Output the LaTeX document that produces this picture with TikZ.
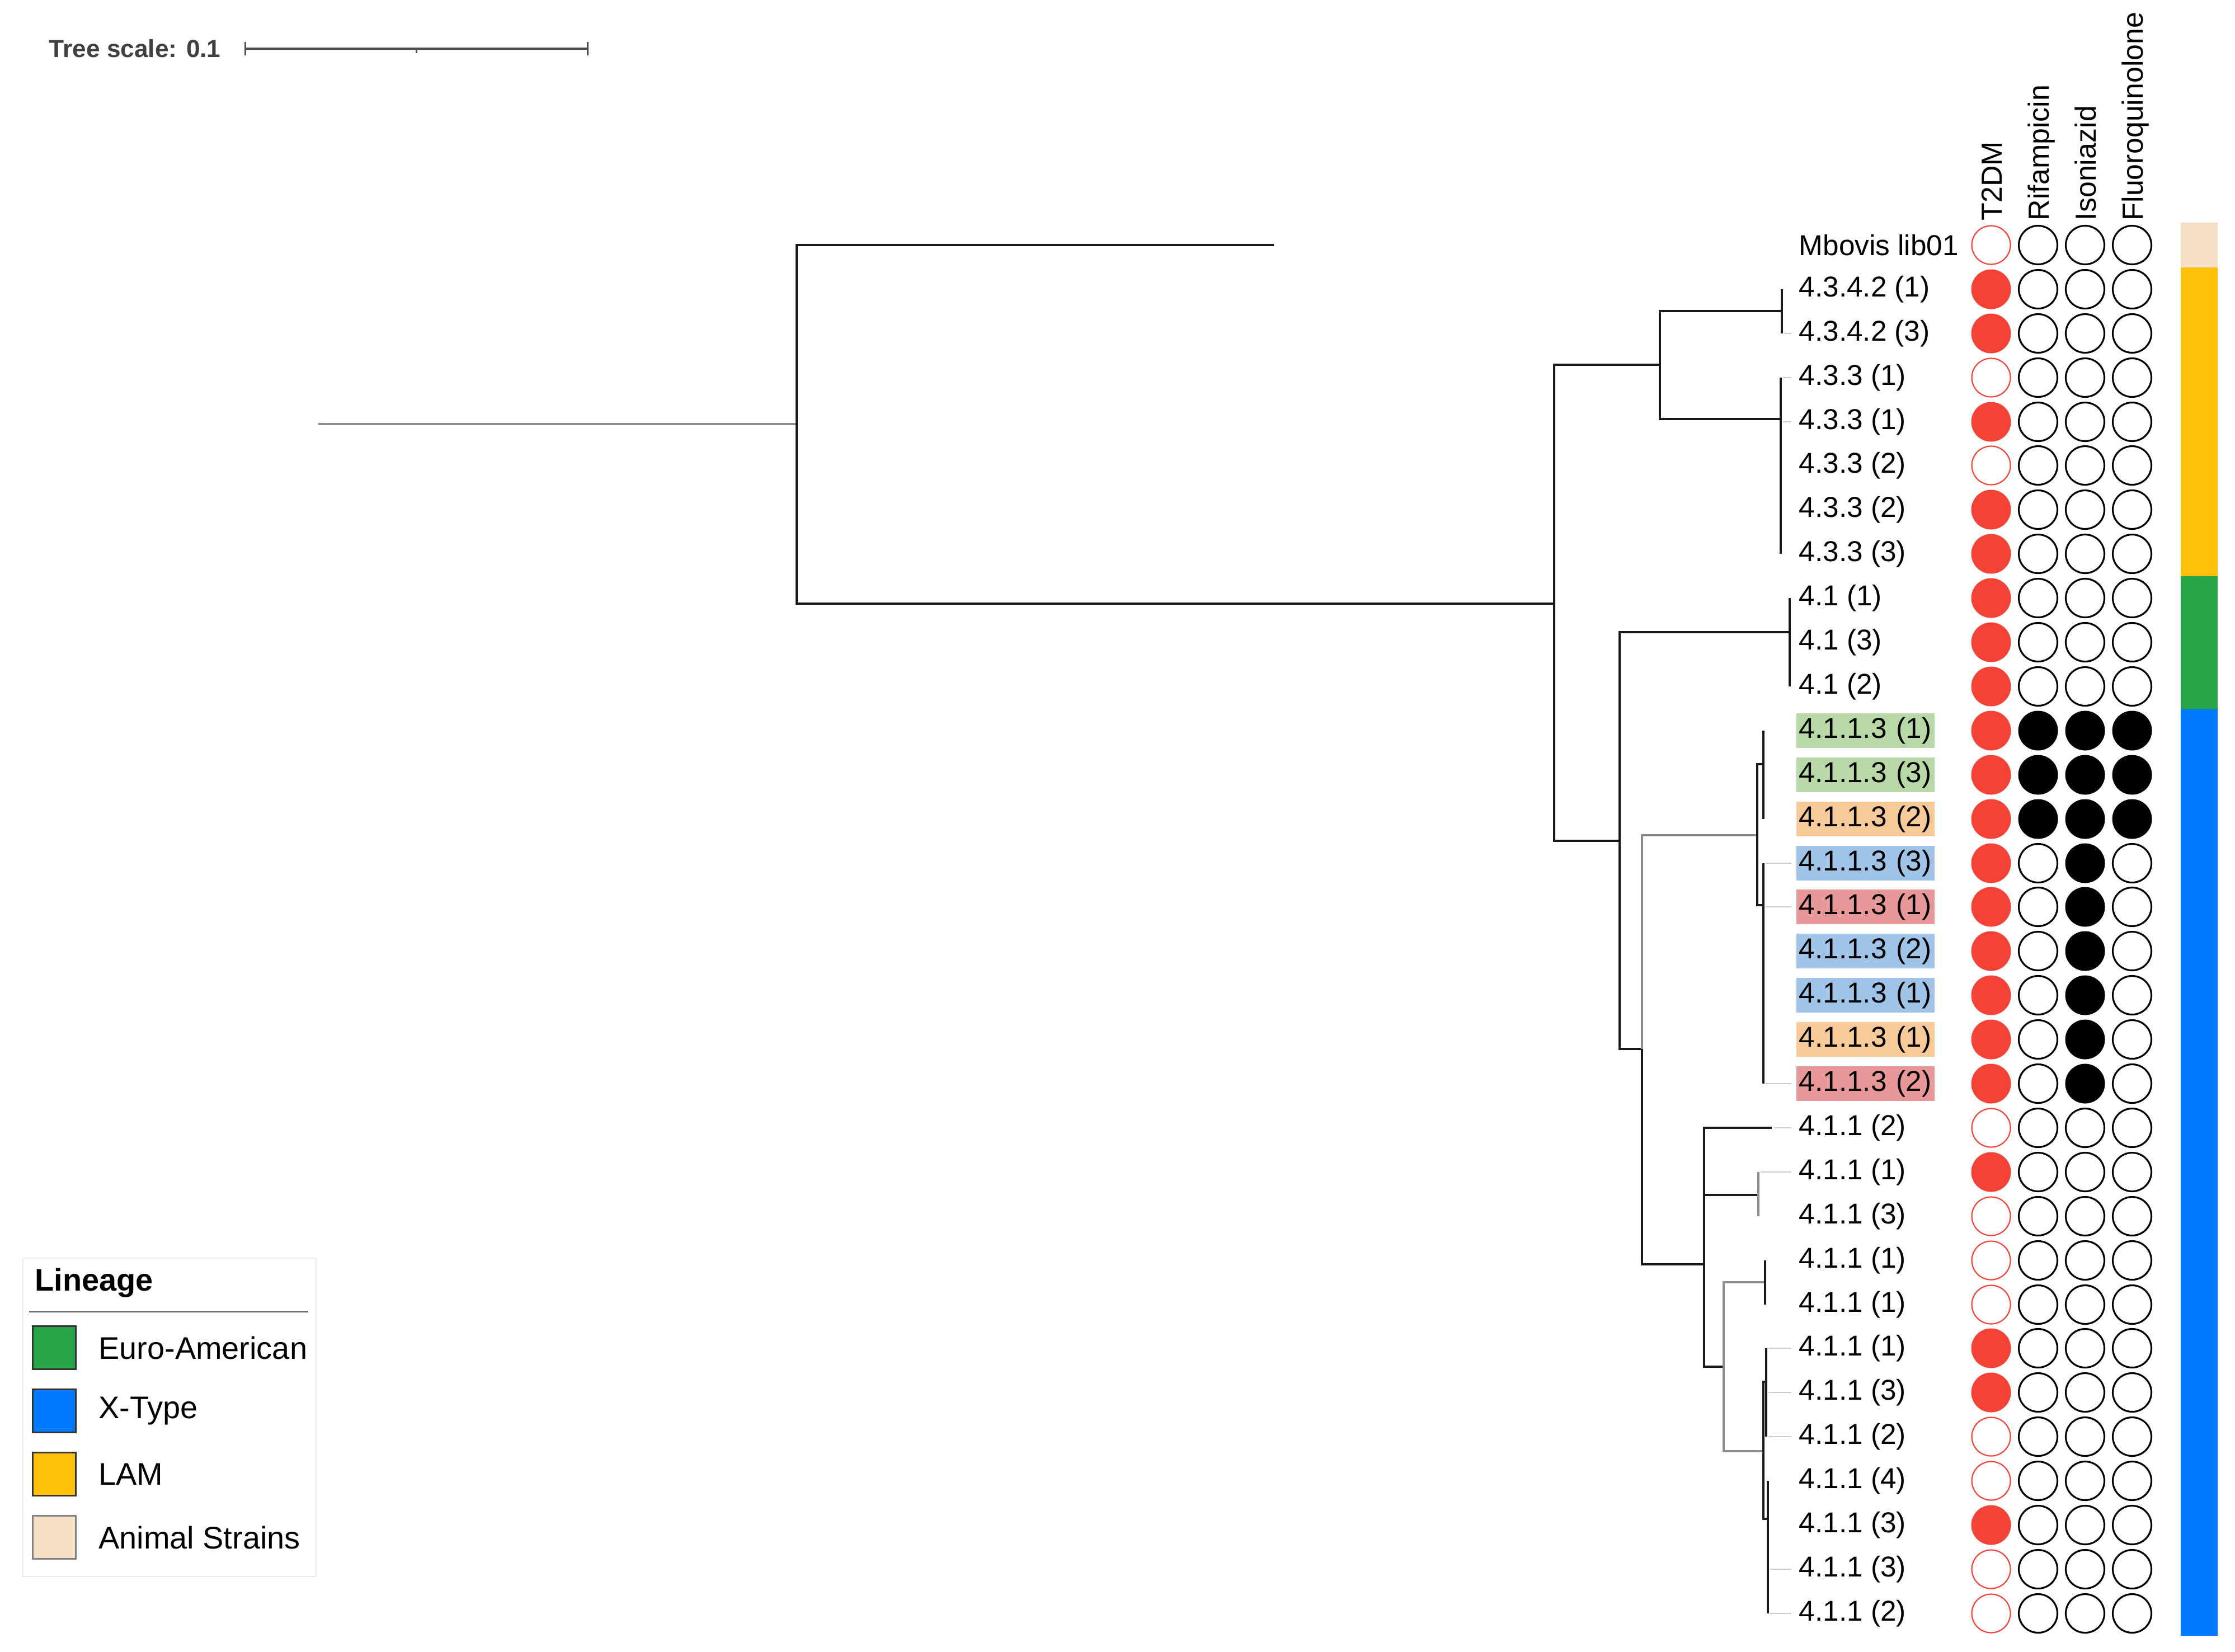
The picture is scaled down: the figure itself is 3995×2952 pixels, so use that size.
\documentclass[tikz,border=0pt]{standalone}
\usepackage{fontspec}
\setmainfont{Liberation Sans}
\usetikzlibrary{positioning}

\definecolor{t2red}{RGB}{244,67,54}
\definecolor{eagreen}{RGB}{40,165,70}
\definecolor{xblue}{RGB}{0,122,255}
\definecolor{lamyellow}{RGB}{255,193,7}
\definecolor{animalbeige}{RGB}{247,223,199}
\definecolor{hlgreen}{RGB}{184,216,168}
\definecolor{hlorange}{RGB}{248,201,153}
\definecolor{hlblue}{RGB}{160,196,232}
\definecolor{hlpink}{RGB}{232,152,152}

\newcommand{\tipfont}{\fontsize{14.6}{16}\selectfont}
\newcommand{\headfont}{\fontsize{14.8}{16}\selectfont}
\newcommand{\legfont}{\fontsize{15.9}{18}\selectfont}

\tikzstyle{branch} = [line width=0.38mm, black!90]
\tikzstyle{greybranch} = [line width=0.38mm, black!45]
\tikzstyle{stub} = [line width=0.25mm, black!20, shorten >=0.8mm, shorten <=0.4mm]
\tikzstyle{tip} = [anchor=west, inner xsep=0.5mm, inner ysep=0pt, minimum height=6.2mm, font=\tipfont]
\tikzstyle{tipbox} = [tip, text width=23.7mm, align=left]
\tikzstyle{tyes} = [circle, inner sep=0pt, minimum size=7.1mm, fill=t2red]
\tikzstyle{tno} = [circle, inner sep=0pt, minimum size=6.9mm, draw=t2red, line width=0.22mm]
\tikzstyle{dyes} = [circle, inner sep=0pt, minimum size=7.1mm, fill=black]
\tikzstyle{dno} = [circle, inner sep=0pt, minimum size=6.9mm, draw=black, line width=0.32mm]
\tikzstyle{header} = [rotate=90, anchor=base west, inner sep=0pt, font=\headfont]
\tikzstyle{swatch} = [rectangle, inner sep=0pt, minimum size=7.7mm, draw=black!80, line width=0.25mm]
\tikzstyle{legtext} = [anchor=west, inner sep=0pt, font=\legfont]

% one row of resistance marks
\newcommand{\resrow}[6]{%
    \node (#1t) [#3] at (3559,#2) {};
    \node (#1r) [#4] at (3643,#2) {};
    \node (#1i) [#5] at (3727,#2) {};
    \node (#1f) [#6] at (3811,#2) {};
}

\begin{document}
\begin{tikzpicture}[x=0.1mm, y=-0.1mm]
    \useasboundingbox (0,0) rectangle (3995,2952);

    % tree scale
    \node (scaletext) [anchor=west, inner sep=0pt, text=black!75, font=\fontsize{12.6}{14}\selectfont\bfseries] at (87,87) {Tree scale: 0.1};
    \coordinate (scaleL) at (438,87);
    \coordinate (scaleR) at (1050,87);
    \coordinate (scaleM) at (744,87);
    \draw [line width=0.45mm, black!70] (scaleL) -- (scaleR);
    \draw [line width=0.3mm, black!70] ([yshift=1.2mm]scaleL) -- ([yshift=-1.2mm]scaleL);
    \draw [line width=0.3mm, black!70] ([yshift=1.2mm]scaleR) -- ([yshift=-1.2mm]scaleR);
    \draw [line width=0.3mm, black!70] (scaleM) -- ([yshift=-0.8mm]scaleM);

    % headers
    \node (hdtdm) [header] at (3578,395) {T2DM};
    \node (hdrif) [header] at (3662,395) {Rifampicin};
    \node (hdinh) [header] at (3746,395) {Isoniazid};
    \node (hdfq) [header] at (3830,395) {Fluoroquinolone};

    % tip labels
    \node (l0) [tip] at (3210,438) {Mbovis lib01};
    \node (l1) [tip] at (3210,517) {4.3.4.2 (1)};
    \node (l2) [tip] at (3210,596) {4.3.4.2 (3)};
    \node (l3) [tip] at (3210,675) {4.3.3 (1)};
    \node (l4) [tip] at (3210,754) {4.3.3 (1)};
    \node (l5) [tip] at (3210,832) {4.3.3 (2)};
    \node (l6) [tip] at (3210,911) {4.3.3 (2)};
    \node (l7) [tip] at (3210,990) {4.3.3 (3)};
    \node (l8) [tip] at (3210,1069) {4.1 (1)};
    \node (l9) [tip] at (3210,1148) {4.1 (3)};
    \node (l10) [tip] at (3210,1227) {4.1 (2)};
    \node (l11) [tipbox, fill=hlgreen] at (3210,1306) {4.1.1.3 (1)};
    \node (l12) [tipbox, fill=hlgreen] at (3210,1385) {4.1.1.3 (3)};
    \node (l13) [tipbox, fill=hlorange] at (3210,1464) {4.1.1.3 (2)};
    \node (l14) [tipbox, fill=hlblue] at (3210,1543) {4.1.1.3 (3)};
    \node (l15) [tipbox, fill=hlpink] at (3210,1621) {4.1.1.3 (1)};
    \node (l16) [tipbox, fill=hlblue] at (3210,1700) {4.1.1.3 (2)};
    \node (l17) [tipbox, fill=hlblue] at (3210,1779) {4.1.1.3 (1)};
    \node (l18) [tipbox, fill=hlorange] at (3210,1858) {4.1.1.3 (1)};
    \node (l19) [tipbox, fill=hlpink] at (3210,1937) {4.1.1.3 (2)};
    \node (l20) [tip] at (3210,2016) {4.1.1 (2)};
    \node (l21) [tip] at (3210,2095) {4.1.1 (1)};
    \node (l22) [tip] at (3210,2174) {4.1.1 (3)};
    \node (l23) [tip] at (3210,2253) {4.1.1 (1)};
    \node (l24) [tip] at (3210,2332) {4.1.1 (1)};
    \node (l25) [tip] at (3210,2410) {4.1.1 (1)};
    \node (l26) [tip] at (3210,2489) {4.1.1 (3)};
    \node (l27) [tip] at (3210,2568) {4.1.1 (2)};
    \node (l28) [tip] at (3210,2647) {4.1.1 (4)};
    \node (l29) [tip] at (3210,2726) {4.1.1 (3)};
    \node (l30) [tip] at (3210,2805) {4.1.1 (3)};
    \node (l31) [tip] at (3210,2884) {4.1.1 (2)};

    % T2DM, rifampicin, isoniazid, fluoroquinolone
    \resrow{r0}{438}{tno}{dno}{dno}{dno}
    \resrow{r1}{517}{tyes}{dno}{dno}{dno}
    \resrow{r2}{596}{tyes}{dno}{dno}{dno}
    \resrow{r3}{675}{tno}{dno}{dno}{dno}
    \resrow{r4}{754}{tyes}{dno}{dno}{dno}
    \resrow{r5}{832}{tno}{dno}{dno}{dno}
    \resrow{r6}{911}{tyes}{dno}{dno}{dno}
    \resrow{r7}{990}{tyes}{dno}{dno}{dno}
    \resrow{r8}{1069}{tyes}{dno}{dno}{dno}
    \resrow{r9}{1148}{tyes}{dno}{dno}{dno}
    \resrow{r10}{1227}{tyes}{dno}{dno}{dno}
    \resrow{r11}{1306}{tyes}{dyes}{dyes}{dyes}
    \resrow{r12}{1385}{tyes}{dyes}{dyes}{dyes}
    \resrow{r13}{1464}{tyes}{dyes}{dyes}{dyes}
    \resrow{r14}{1543}{tyes}{dno}{dyes}{dno}
    \resrow{r15}{1621}{tyes}{dno}{dyes}{dno}
    \resrow{r16}{1700}{tyes}{dno}{dyes}{dno}
    \resrow{r17}{1779}{tyes}{dno}{dyes}{dno}
    \resrow{r18}{1858}{tyes}{dno}{dyes}{dno}
    \resrow{r19}{1937}{tyes}{dno}{dyes}{dno}
    \resrow{r20}{2016}{tno}{dno}{dno}{dno}
    \resrow{r21}{2095}{tyes}{dno}{dno}{dno}
    \resrow{r22}{2174}{tno}{dno}{dno}{dno}
    \resrow{r23}{2253}{tno}{dno}{dno}{dno}
    \resrow{r24}{2332}{tno}{dno}{dno}{dno}
    \resrow{r25}{2410}{tyes}{dno}{dno}{dno}
    \resrow{r26}{2489}{tyes}{dno}{dno}{dno}
    \resrow{r27}{2568}{tno}{dno}{dno}{dno}
    \resrow{r28}{2647}{tno}{dno}{dno}{dno}
    \resrow{r29}{2726}{tyes}{dno}{dno}{dno}
    \resrow{r30}{2805}{tno}{dno}{dno}{dno}
    \resrow{r31}{2884}{tno}{dno}{dno}{dno}

    % lineage strip
    \fill [animalbeige] (3898,398) rectangle (3964,478);
    \fill [lamyellow] (3898,478) rectangle (3964,1030);
    \fill [eagreen] (3898,1030) rectangle (3964,1267);
    \fill [xblue] (3898,1267) rectangle (3964,2924);

    % tree nodes
    \coordinate (root0) at (569,758);
    \coordinate (nA) at (1424,758);
    \coordinate (nB) at (2778,1079);
    \coordinate (nC) at (2967,652);
    \coordinate (n4342) at (3185,556);
    \coordinate (n433) at (3183,749);
    \coordinate (nD) at (2895,1503);
    \coordinate (n41) at (3199,1130);
    \coordinate (nE) at (2935,1875);
    \coordinate (nF) at (3141,1493);
    \coordinate (nF1) at (3152,1366);
    \coordinate (nF2) at (3152,1618);
    \coordinate (nG) at (3046,2260);
    \coordinate (nG2) at (3143,2136);
    \coordinate (nH) at (3081,2443);
    \coordinate (nH1) at (3155,2292);
    \coordinate (nI) at (3152,2594);
    \coordinate (nI1) at (3157,2470);
    \coordinate (nI2) at (3160,2715);

    % leaf ends
    \coordinate (lf0) at (2277,438);
    \coordinate (lf1) at (3185,517);
    \coordinate (lf2) at (3185,596);
    \coordinate (lf3) at (3183,675);
    \coordinate (lf4) at (3183,754);
    \coordinate (lf5) at (3183,832);
    \coordinate (lf6) at (3183,911);
    \coordinate (lf7) at (3183,990);
    \coordinate (lf8) at (3199,1069);
    \coordinate (lf9) at (3199,1148);
    \coordinate (lf10) at (3199,1227);
    \coordinate (lf11) at (3152,1306);
    \coordinate (lf12) at (3152,1385);
    \coordinate (lf13) at (3152,1464);
    \coordinate (lf14) at (3152,1543);
    \coordinate (lf15) at (3152,1621);
    \coordinate (lf16) at (3152,1700);
    \coordinate (lf17) at (3152,1779);
    \coordinate (lf18) at (3152,1858);
    \coordinate (lf19) at (3152,1937);
    \coordinate (lf20) at (3167,2016);
    \coordinate (lf21) at (3143,2095);
    \coordinate (lf22) at (3143,2174);
    \coordinate (lf23) at (3155,2253);
    \coordinate (lf24) at (3155,2332);
    \coordinate (lf25) at (3157,2410);
    \coordinate (lf26) at (3157,2489);
    \coordinate (lf27) at (3157,2568);
    \coordinate (lf28) at (3160,2647);
    \coordinate (lf29) at (3160,2726);
    \coordinate (lf30) at (3160,2805);
    \coordinate (lf31) at (3160,2884);

    \draw [greybranch] (root0) -- (nA);
    \draw [branch] (nA) |- (lf0);
    \draw [branch] (nA) |- (nB);
    \draw [branch] (nB) |- (nC);
    \draw [branch] (nC) |- (n4342);
    \draw [branch] (n4342) |- (lf1);
    \draw [branch] (n4342) |- (lf2);
    \draw [branch] (nC) |- (n433);
    \draw [branch] (n433) |- (lf3);
    \draw [branch] (n433) |- (lf7);
    \draw [branch] (nB) |- (nD);
    \draw [branch] (nD) |- (n41);
    \draw [branch] (n41) |- (lf8);
    \draw [branch] (n41) |- (lf10);
    \draw [branch] (nD) |- (nE);
    \draw [greybranch] (nE) |- (nF);
    \draw [branch] (nF) |- (nF1);
    \draw [branch] (nF) |- (nF2);
    \draw [branch] (nF1) |- (lf11);
    \draw [branch] (nF1) |- (lf13);
    \draw [branch] (nF2) |- (lf14);
    \draw [branch] (nF2) |- (lf19);
    \draw [branch] (nE) |- (nG);
    \draw [branch] (nG) |- (lf20);
    \draw [branch] (nG) |- (nG2);
    \draw [greybranch] (nG2) |- (lf21);
    \draw [greybranch] (nG2) |- (lf22);
    \draw [branch] (nG) |- (nH);
    \draw [greybranch] (nH) |- (nH1);
    \draw [branch] (nH1) |- (lf23);
    \draw [branch] (nH1) |- (lf24);
    \draw [greybranch] (nH) |- (nI);
    \draw [branch] (nI) |- (nI1);
    \draw [branch] (nI1) |- (lf25);
    \draw [branch] (nI1) |- (lf27);
    \draw [branch] (nI) |- (nI2);
    \draw [branch] (nI2) |- (lf28);
    \draw [branch] (nI2) |- (lf31);

    % faint tip stubs
    \draw [stub] (lf2) -- (l2);
    \draw [stub] (lf3) -- (l3);
    \draw [stub] (lf4) -- (l4);
    \draw [stub] (lf14) -- (l14);
    \draw [stub] (lf15) -- (l15);
    \draw [stub] (lf19) -- (l19);
    \draw [stub] (lf20) -- (l20);
    \draw [stub] (lf21) -- (l21);
    \draw [stub] (lf25) -- (l25);
    \draw [stub] (lf26) -- (l26);
    \draw [stub] (lf27) -- (l27);
    \draw [stub] (lf30) -- (l30);
    \draw [stub] (lf31) -- (l31);

    % legend
    \draw [black!8, line width=0.25mm] (41,2249) rectangle (565,2818);
    \node (legtitle) [anchor=west, inner sep=0pt, font=\legfont\bfseries] at (62,2293) {Lineage};
    \draw [black!65, line width=0.25mm] (52,2345) -- (551,2345);
    \node (easw) [swatch, fill=eagreen] at (97,2409) {};
    \node (xsw) [swatch, fill=xblue] at (97,2522) {};
    \node (lamsw) [swatch, fill=lamyellow] at (97,2635) {};
    \node (answ) [swatch, fill=animalbeige, draw=black!50] at (97,2748) {};
    \node (eatext) [legtext, right=3.9mm of easw] {Euro-American};
    \node (xtext) [legtext, right=3.9mm of xsw] {X-Type};
    \node (lamtext) [legtext, right=3.9mm of lamsw] {LAM};
    \node (antext) [legtext, right=3.9mm of answ] {Animal Strains};

\end{tikzpicture}
\end{document}
